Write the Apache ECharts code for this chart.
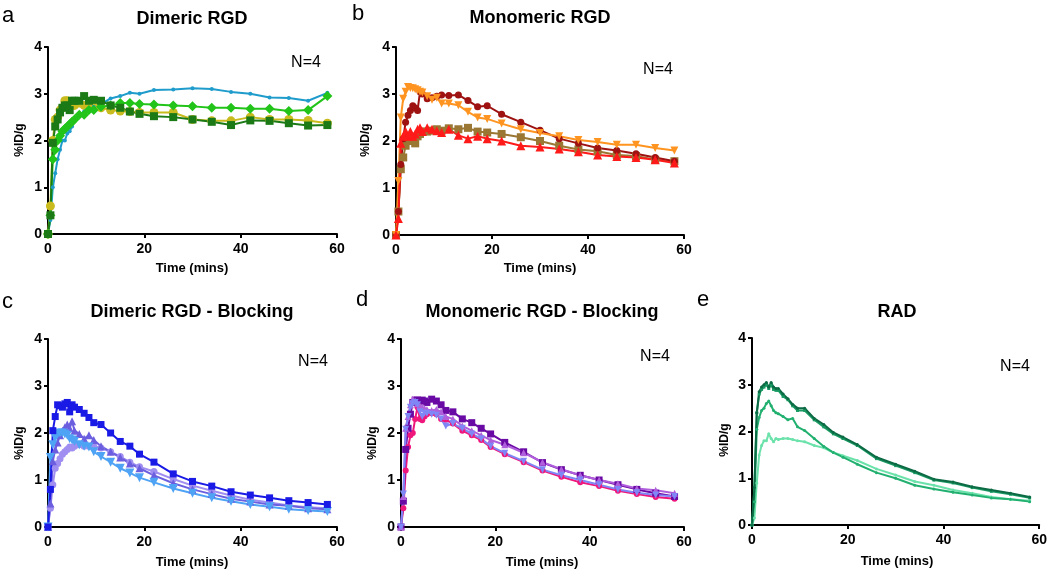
<!DOCTYPE html>
<html>
<head>
<meta charset="utf-8">
<title>Time activity curves</title>
<script src="https://cdn.jsdelivr.net/npm/echarts@6/dist/echarts.min.js"></script>
<style>
  html, body { margin: 0; padding: 0; background: #fff; }
  #chart { width: 1050px; height: 570px; }
</style>
</head>
<body>
<div id="chart"></div>
<script>
// frame times (mins), shared by all curves
const times = [0, 0.5, 1, 1.5, 2, 2.5, 3, 3.5, 4, 4.5, 5, 5.5, 6.5, 7.5, 8.5, 9.5, 11, 13, 15, 17, 19, 22, 26, 30, 34, 38, 42, 46, 50, 54, 58];
const xTicks = [0, 20, 40, 60];
const yTicks = [0, 1, 2, 3, 4];

// a - Dimeric RGD
const aBlue   = [0, 0.3, 1.0, 1.3, 1.6, 1.8, 2.0, 2.0, 2.15, 2.2, 2.3, 2.45, 2.55, 2.62, 2.68, 2.72, 2.78, 2.9, 2.95, 3.02, 3.0, 3.08, 3.09, 3.12, 3.1, 3.04, 3.0, 2.92, 2.91, 2.85, 3.02];
const aGreen  = [0, 0.4, 1.6, 1.8, 2.0, 2.1, 2.2, 2.25, 2.3, 2.35, 2.4, 2.45, 2.55, 2.55, 2.65, 2.65, 2.72, 2.75, 2.8, 2.8, 2.78, 2.77, 2.75, 2.73, 2.7, 2.7, 2.68, 2.68, 2.63, 2.65, 2.95];
const aYellow = [0, 0.6, 2.0, 2.45, 2.5, 2.65, 2.7, 2.85, 2.85, 2.75, 2.8, 2.75, 2.8, 2.75, 2.75, 2.72, 2.7, 2.65, 2.63, 2.62, 2.6, 2.6, 2.6, 2.45, 2.42, 2.42, 2.5, 2.45, 2.45, 2.43, 2.37];
const aDark   = [0, 0.4, 1.95, 2.3, 2.45, 2.6, 2.7, 2.75, 2.75, 2.65, 2.85, 2.85, 2.85, 2.95, 2.85, 2.87, 2.85, 2.75, 2.7, 2.62, 2.57, 2.52, 2.5, 2.45, 2.4, 2.33, 2.43, 2.42, 2.37, 2.32, 2.33];

// b - Monomeric RGD
const bDarkRed = [0, 0.5, 1.5, 2.05, 2.4, 2.55, 2.65, 2.75, 2.7, 2.65, 3.05, 3.0, 2.9, 2.92, 2.95, 2.98, 2.97, 2.98, 2.86, 2.73, 2.75, 2.57, 2.4, 2.23, 2.05, 1.95, 1.85, 1.8, 1.73, 1.65, 1.57];
const bOrange  = [0, 1.15, 2.5, 2.9, 3.05, 3.15, 3.13, 3.12, 3.1, 3.08, 3.05, 3.03, 2.95, 2.88, 2.92, 2.8, 2.8, 2.76, 2.62, 2.5, 2.47, 2.37, 2.25, 2.17, 2.1, 2.02, 1.98, 1.92, 1.92, 1.85, 1.8];
const bBrown   = [0, 0.5, 1.4, 1.65, 1.9, 2.0, 2.0, 2.05, 1.95, 2.1, 2.15, 2.2, 2.2, 2.22, 2.25, 2.22, 2.27, 2.25, 2.28, 2.2, 2.18, 2.15, 2.08, 2.0, 1.9, 1.82, 1.78, 1.7, 1.68, 1.6, 1.57];
const bRed     = [0, 0.35, 1.95, 2.1, 2.2, 2.1, 2.2, 2.1, 2.15, 2.25, 2.28, 2.2, 2.28, 2.25, 2.22, 2.18, 2.25, 2.12, 2.05, 2.1, 2.05, 2.0, 1.9, 1.87, 1.83, 1.77, 1.7, 1.67, 1.65, 1.6, 1.53];

// c - Dimeric RGD - Blocking
const cBlue   = [0, 0.8, 2.05, 2.35, 2.6, 2.58, 2.55, 2.62, 2.65, 2.45, 2.6, 2.55, 2.5, 2.42, 2.33, 2.22, 2.18, 2.0, 1.82, 1.72, 1.55, 1.38, 1.13, 0.97, 0.87, 0.75, 0.68, 0.62, 0.56, 0.52, 0.48];
const cViolet = [0, 0.5, 1.4, 1.65, 1.8, 1.95, 2.05, 2.12, 2.18, 2.1, 2.25, 2.05, 1.98, 1.88, 1.95, 1.85, 1.72, 1.6, 1.48, 1.35, 1.25, 1.1, 0.93, 0.8, 0.7, 0.6, 0.54, 0.48, 0.45, 0.4, 0.38];
const cLilac  = [0, 0.4, 0.9, 1.25, 1.35, 1.45, 1.55, 1.6, 1.65, 1.7, 1.68, 1.72, 1.75, 1.72, 1.72, 1.72, 1.68, 1.6, 1.5, 1.38, 1.28, 1.18, 1.02, 0.88, 0.77, 0.67, 0.58, 0.52, 0.46, 0.42, 0.4];
const cSky    = [0, 1.48, 1.75, 1.9, 1.98, 2.0, 2.0, 1.98, 1.95, 1.88, 1.85, 1.82, 1.75, 1.72, 1.7, 1.6, 1.5, 1.38, 1.25, 1.15, 1.05, 0.95, 0.82, 0.72, 0.62, 0.55, 0.48, 0.43, 0.38, 0.35, 0.33];

// d - Monomeric RGD - Blocking
const dPurple = [0, 0.55, 1.65, 2.1, 2.4, 2.65, 2.7, 2.7, 2.68, 2.7, 2.68, 2.65, 2.72, 2.68, 2.6, 2.48, 2.45, 2.3, 2.22, 2.1, 1.98, 1.8, 1.6, 1.37, 1.22, 1.1, 1.0, 0.9, 0.8, 0.72, 0.65];
const dOrchid = [0, 0.65, 2.1, 2.35, 2.6, 2.72, 2.68, 2.62, 2.58, 2.55, 2.52, 2.5, 2.48, 2.5, 2.45, 2.35, 2.3, 2.15, 2.05, 1.95, 1.85, 1.75, 1.58, 1.38, 1.23, 1.1, 1.0, 0.92, 0.82, 0.78, 0.72];
const dPink   = [0, 0.4, 1.2, 1.7, 1.95, 2.0, 2.3, 2.55, 2.3, 2.27, 2.35, 2.4, 2.42, 2.4, 2.3, 2.28, 2.2, 2.05, 1.95, 1.85, 1.7, 1.55, 1.38, 1.2, 1.07, 0.95, 0.87, 0.77, 0.7, 0.64, 0.6];
const dPeri   = [0, 0.7, 2.08, 2.35, 2.55, 2.62, 2.65, 2.6, 2.45, 2.35, 2.42, 2.42, 2.4, 2.38, 2.3, 2.15, 2.2, 2.1, 1.98, 1.88, 1.72, 1.57, 1.4, 1.22, 1.1, 1.0, 0.9, 0.8, 0.73, 0.68, 0.65];

// e - RAD
const eDark  = [0, 0.8, 2.4, 2.85, 2.95, 3.0, 3.05, 2.95, 3.05, 2.95, 2.92, 2.92, 2.8, 2.7, 2.58, 2.5, 2.5, 2.28, 2.15, 1.98, 1.88, 1.72, 1.45, 1.3, 1.15, 0.98, 0.92, 0.82, 0.75, 0.68, 0.6];
const eMid   = [0, 0.8, 2.4, 2.8, 2.9, 2.95, 3.0, 2.92, 3.0, 2.9, 2.88, 2.88, 2.75, 2.68, 2.55, 2.45, 2.45, 2.25, 2.1, 1.95, 1.85, 1.7, 1.42, 1.27, 1.12, 0.96, 0.9, 0.8, 0.72, 0.66, 0.58];
const eGreen = [0, 0.5, 2.05, 2.3, 2.45, 2.5, 2.6, 2.65, 2.55, 2.45, 2.4, 2.38, 2.32, 2.25, 2.28, 2.1, 2.02, 1.85, 1.68, 1.55, 1.45, 1.3, 1.12, 1.0, 0.85, 0.77, 0.7, 0.64, 0.58, 0.55, 0.5];
const eLight = [0, 0.15, 0.9, 1.5, 1.7, 1.8, 1.8, 1.95, 1.85, 1.78, 1.85, 1.83, 1.85, 1.85, 1.83, 1.8, 1.78, 1.7, 1.65, 1.55, 1.48, 1.38, 1.2, 1.07, 0.93, 0.85, 0.75, 0.68, 0.6, 0.55, 0.52];

const panels = [
  { letter: 'a', title: 'Dimeric RGD', grid: { left: 48, top: 47, width: 289, height: 187 },
    letterPos: [2, 16], titlePos: [192, 19], nPos: [306, 63], yNamePos: [20, 140], xNamePos: [192, 268],
    curves: [
      { data: aYellow, color: '#c9bb1e', symbol: 'circle', size: 9 },
      { data: aBlue, color: '#1f9ccc', symbol: 'circle', size: 4 },
      { data: aGreen, color: '#22c41a', symbol: 'diamond', size: 10 },
      { data: aDark, color: '#1b7a16', symbol: 'rect', size: 8 }
    ] },
  { letter: 'b', title: 'Monomeric RGD', grid: { left: 396, top: 47, width: 288, height: 188 },
    letterPos: [352, 14], titlePos: [540, 18], nPos: [658, 70], yNamePos: [366, 140], xNamePos: [540, 268],
    curves: [
      { data: bBrown, color: '#9a7733', symbol: 'rect', size: 8 },
      { data: bDarkRed, color: '#9e1212', symbol: 'circle', size: 7 },
      { data: bOrange, color: '#ff9420', symbol: 'triangle', size: 8, rotate: 180 },
      { data: bRed, color: '#ff1a1a', symbol: 'triangle', size: 9 }
    ] },
  { letter: 'c', title: 'Dimeric RGD - Blocking', grid: { left: 48, top: 339, width: 289, height: 188 },
    letterPos: [2, 302], titlePos: [192, 312], nPos: [313, 362], yNamePos: [20, 443], xNamePos: [192, 562],
    curves: [
      { data: cLilac, color: '#a08ef0', symbol: 'circle', size: 7 },
      { data: cViolet, color: '#6b5fe0', symbol: 'triangle', size: 8 },
      { data: cSky, color: '#4fa3f5', symbol: 'triangle', size: 9, rotate: 180 },
      { data: cBlue, color: '#1a1ae6', symbol: 'rect', size: 7 }
    ] },
  { letter: 'd', title: 'Monomeric RGD - Blocking', grid: { left: 401, top: 339, width: 283, height: 188 },
    letterPos: [356, 300], titlePos: [542, 312], nPos: [655, 357], yNamePos: [373, 443], xNamePos: [542, 562],
    curves: [
      { data: dPink, color: '#f0177c', symbol: 'circle', size: 6 },
      { data: dPurple, color: '#6a0aa5', symbol: 'rect', size: 7 },
      { data: dOrchid, color: '#b05fdc', symbol: 'triangle', size: 7 },
      { data: dPeri, color: '#7f86f5', symbol: 'triangle', size: 7, rotate: 180 }
    ] },
  { letter: 'e', title: 'RAD', grid: { left: 752, top: 338, width: 290, height: 187 },
    letterPos: [697, 300], titlePos: [897, 312], nPos: [1015, 367], yNamePos: [725, 440], xNamePos: [897, 561],
    curves: [
      { data: eLight, color: '#6ce2ab', symbol: 'circle', size: 3 },
      { data: eGreen, color: '#22b070', symbol: 'circle', size: 3 },
      { data: eMid, color: '#189a62', symbol: 'rect', size: 3 },
      { data: eDark, color: '#0c6a44', symbol: 'circle', size: 3 }
    ] }
];

const font = '"Liberation Sans", Arial, sans-serif';
const grids = [], xAxes = [], yAxes = [], series = [], texts = [];

panels.forEach((p, i) => {
  grids.push(Object.assign({ containLabel: false }, p.grid));
  xAxes.push({
    type: 'value', gridIndex: i,
    min: xTicks[0], max: xTicks[xTicks.length - 1], interval: xTicks[1] - xTicks[0],
    splitLine: { show: false },
    axisLine: { lineStyle: { color: '#000', width: 2 } },
    axisTick: { length: 4, lineStyle: { color: '#000', width: 2 } },
    axisLabel: { color: '#000', fontFamily: font, fontWeight: 'bold', fontSize: 14, margin: 8 }
  });
  yAxes.push({
    type: 'value', gridIndex: i,
    min: yTicks[0], max: yTicks[yTicks.length - 1], interval: yTicks[1] - yTicks[0],
    splitLine: { show: false },
    axisLine: { show: true, lineStyle: { color: '#000', width: 2 } },
    axisTick: { show: true, length: 4, lineStyle: { color: '#000', width: 2 } },
    axisLabel: { color: '#000', fontFamily: font, fontWeight: 'bold', fontSize: 14, margin: 6 }
  });
  p.curves.forEach(c => {
    series.push({
      type: 'line', xAxisIndex: i, yAxisIndex: i,
      data: times.map((t, k) => [t, c.data[k]]),
      symbol: c.symbol, symbolSize: c.size, symbolRotate: c.rotate || 0,
      showAllSymbol: true, clip: false, animation: false,
      lineStyle: { color: c.color, width: 2 },
      itemStyle: { color: c.color, borderWidth: 0 }
    });
  });
  texts.push(
    { type: 'text', x: p.letterPos[0], y: p.letterPos[1],
      style: { text: p.letter, font: '22px ' + font, fill: '#000', textAlign: 'left', textVerticalAlign: 'middle' } },
    { type: 'text', x: p.titlePos[0], y: p.titlePos[1],
      style: { text: p.title, font: 'bold 18px ' + font, fill: '#000', textAlign: 'center', textVerticalAlign: 'middle' } },
    { type: 'text', x: p.nPos[0], y: p.nPos[1],
      style: { text: 'N=4', font: '16px ' + font, fill: '#000', textAlign: 'center', textVerticalAlign: 'middle' } },
    { type: 'text', x: p.yNamePos[0], y: p.yNamePos[1], rotation: Math.PI / 2,
      style: { text: '%ID/g', font: 'bold 12px ' + font, fill: '#000', textAlign: 'center', textVerticalAlign: 'middle' } },
    { type: 'text', x: p.xNamePos[0], y: p.xNamePos[1],
      style: { text: 'Time (mins)', font: 'bold 13px ' + font, fill: '#000', textAlign: 'center', textVerticalAlign: 'middle' } }
  );
});

const chart = echarts.init(document.getElementById('chart'));
chart.setOption({
  backgroundColor: '#fff',
  animation: false,
  grid: grids,
  xAxis: xAxes,
  yAxis: yAxes,
  series: series,
  graphic: texts
});
</script>
</body>
</html>
